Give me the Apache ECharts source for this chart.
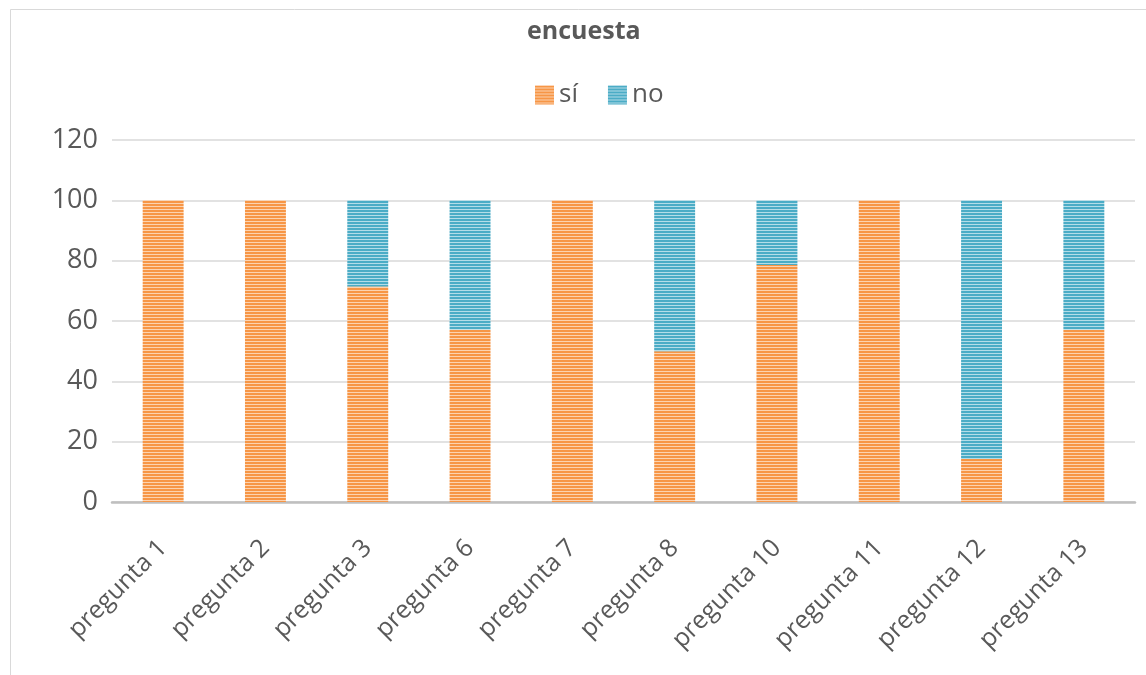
<!DOCTYPE html>
<html>
<head>
<meta charset="utf-8">
<script src="https://cdn.jsdelivr.net/npm/echarts@6/dist/echarts.min.js"></script>
<style>
html,body{margin:0;padding:0;background:#fff;}
#main{width:1146px;height:675px;}
</style>
</head>
<body>
<div id="main"></div>
<script>
const categories = ['pregunta 1','pregunta 2','pregunta 3','pregunta 6','pregunta 7','pregunta 8','pregunta 10','pregunta 11','pregunta 12','pregunta 13'];
const siValues = [100,100,71.43,57.14,100,50,78.57,100,14.29,57.14];
const noValues = [0,0,28.57,42.86,0,50,21.43,0,85.71,42.86];
const yTicks = [0,20,40,60,80,100,120];

function stripe(main, light){
  const c = document.createElement('canvas');
  c.width = 4; c.height = 3;
  const ctx = c.getContext('2d');
  ctx.fillStyle = main; ctx.fillRect(0,0,4,2);
  ctx.fillStyle = light; ctx.fillRect(0,2,4,1);
  return {image: c, repeat: 'repeat'};
}
const orangeFill = stripe('#F79646', '#FCD3B0');
const blueFill = stripe('#4BACC6', '#B4DDE8');

const chart = echarts.init(document.getElementById('main'));
chart.setOption({
  backgroundColor:'#fff',
  animation:false,
  graphic:[{type:'rect', shape:{x:10.5,y:9.5,width:1200,height:700}, style:{fill:'none',stroke:'#D9D9D9',lineWidth:1}}],
  title:{text:'encuesta', left:522, top:14, textStyle:{fontFamily:'Open Sans', fontSize:25, fontWeight:'bold', color:'#595959'}},
  legend:{left:530, top:77, icon:'rect', itemWidth:19, itemHeight:19, itemGap:30,
    textStyle:{fontFamily:'Open Sans', fontSize:26, color:'#595959', padding:[0,0,0,0]},
    data:['sí','no']},
  grid:{left:112, right:11, top:140, bottom:173},
  xAxis:{type:'category', data:categories,
    axisLine:{lineStyle:{color:'#BFBFBF', width:2.5}},
    axisTick:{show:false},
    axisLabel:{rotate:45, interval:0, margin:42, fontFamily:'Open Sans', fontSize:25, color:'#595959'}},
  yAxis:{type:'value', min:yTicks[0], max:yTicks[yTicks.length-1], interval:20,
    axisLine:{show:false}, axisTick:{show:false},
    splitLine:{lineStyle:{color:'#D9D9D9', width:1.5}},
    axisLabel:{margin:14, fontFamily:'Open Sans', fontSize:27, color:'#595959'}},
  series:[
    {name:'sí', type:'bar', stack:'t', data:siValues, barWidth:'40%', itemStyle:{color:orangeFill}},
    {name:'no', type:'bar', stack:'t', data:noValues, barWidth:'40%', itemStyle:{color:blueFill}}
  ]
});
</script>
</body>
</html>
